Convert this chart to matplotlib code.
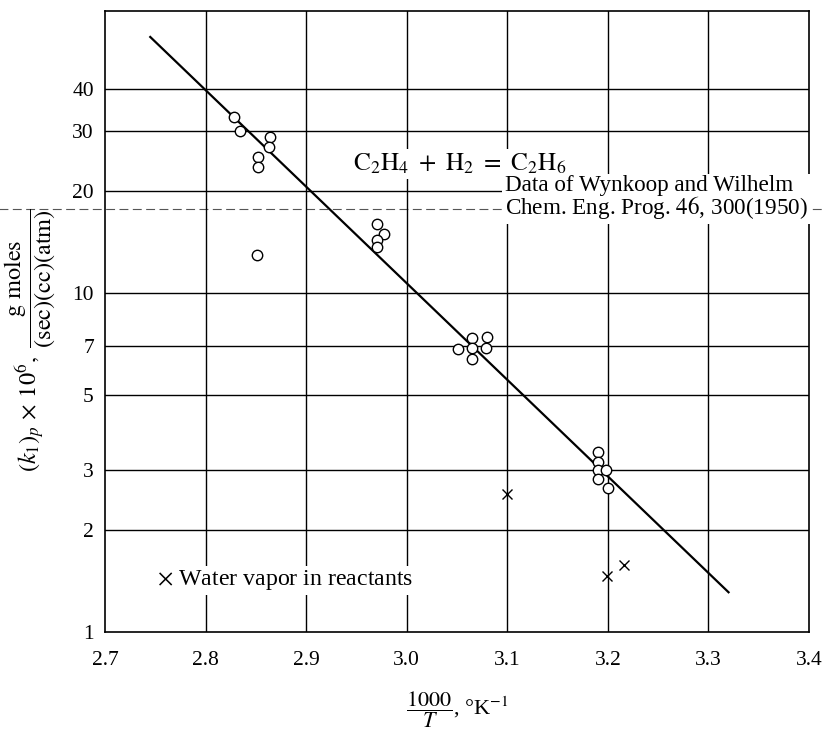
import matplotlib
matplotlib.use("Agg")
import matplotlib.pyplot as plt
import numpy as np

# data: open circles (dry reactants)
circ_x = [2.828, 2.834, 2.864, 2.863, 2.852, 2.852, 2.851,
          2.970, 2.977, 2.970, 2.970,
          3.051, 3.065, 3.065, 3.065, 3.080, 3.079,
          3.190, 3.190, 3.190, 3.190, 3.198, 3.200]
circ_y = [33.2, 30.1, 28.9, 27.0, 25.3, 23.6, 13.0,
          16.0, 14.9, 14.3, 13.7,
          6.84, 7.35, 6.87, 6.39, 7.40, 6.90,
          3.39, 3.18, 3.00, 2.83, 3.00, 2.66]
# crosses (water vapor in reactants)
cross_x = [3.100, 3.199, 3.216]
cross_y = [2.55, 1.46, 1.58]
# fitted line end points
line_x = [2.745, 3.320]
line_y = [57.0, 1.31]

xticks = [2.7, 2.8, 2.9, 3.0, 3.1, 3.2, 3.3, 3.4]
xticklabels = ["2.7", "2.8", "2.9", "3.0", "3.1", "3.2", "3.3", "3.4"]
yticks = [1, 2, 3, 5, 7, 10, 20, 30, 40]
yticklabels = ["1", "2", "3", "5", "7", "10", "20", "30", "40"]

plt.rcParams['font.family'] = ['Liberation Serif', 'DejaVu Serif']
plt.rcParams['mathtext.fontset'] = 'stix'

fig = plt.figure(figsize=(8.23, 7.37), dpi=100)
fig.patch.set_facecolor('white')
ax = fig.add_axes([105/823, 1-632/737, 704/823, 621/737])
ax.set_facecolor('none')

ax.set_yscale('log')
ax.set_xlim(2.7, 3.4)
ax.set_ylim(1, 68)
ax.set_xticks(xticks)
ax.set_xticklabels(xticklabels)
ax.set_yticks(yticks)
ax.set_yticklabels(yticklabels)
ax.yaxis.set_minor_locator(matplotlib.ticker.NullLocator())
ax.tick_params(axis='both', length=0, labelsize=15.5)
ax.tick_params(axis='x', pad=14)
ax.tick_params(axis='y', pad=8)

for yv in yticks[1:]:
    ax.axhline(yv, color='black', lw=1.0, zorder=1)
for xv in xticks[1:-1]:
    ax.axvline(xv, color='black', lw=1.0, zorder=1)
for s in ax.spines.values():
    s.set_linewidth(1.2)

# scan artifact dashed line
ax.axhline(17.7, xmin=-0.15, xmax=1.03, clip_on=False, color='#555555',
           lw=0.8, ls=(0, (8, 4)), zorder=0.5)

ax.plot(line_x, line_y, color='black', lw=1.6, zorder=3)
ax.plot(circ_x, circ_y, ls='none', marker='o', ms=7.5, mfc='white',
        mec='black', mew=1.0, zorder=4)
ax.plot(cross_x, cross_y, ls='none', marker='x', ms=7, mec='black',
        mew=1.0, zorder=4)

bbox = dict(facecolor='white', edgecolor='none', pad=2)
ax.text(2.947, 24.1, r'$\mathrm{C_2H_4\ +\ H_2\ =\ C_2H_6}$', fontsize=18.1,
        ha='left', va='center', bbox=bbox, zorder=5)
ax.text(3.098, 22.3, 'Data of Wynkoop and Wilhelm\n' +
        r'Chem. Eng. Prog. $\mathit{46}$, 300(1950)', fontsize=16.7,
        ha='left', va='top', linespacing=0.92, bbox=bbox, zorder=5)
ax.text(2.752, 1.42, r'$\times$ Water vapor in reactants', fontsize=17.2,
        ha='left', va='center', bbox=bbox, zorder=5)

ax.set_xlabel(r'$\dfrac{1000}{T}$, °K$^{-1}$', fontsize=16)
ax.xaxis.set_label_coords(0.5, -0.092)
ax.set_ylabel(r'$(k_1)_p\,\times\,10^6,\ \dfrac{\mathrm{g\ moles}}{\mathrm{(sec)(cc)(atm)}}$',
              fontsize=17.5)
ax.yaxis.set_label_coords(-0.067, 0.47)

fig.savefig('out.png', dpi=100, facecolor='white')
